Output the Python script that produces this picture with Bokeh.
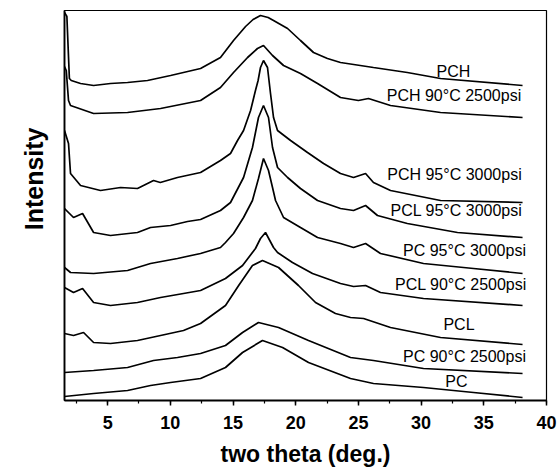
from bokeh.plotting import figure
from bokeh.models import Range1d, SingleIntervalTicker, FixedTicker, Title, ColumnDataSource
from bokeh.core.properties import value
from bokeh.embed import file_html
from bokeh.resources import INLINE

# ---------------- data (two theta in deg., intensity in arbitrary stacked units) -------------
pch_x = [1.56, 1.75, 1.95, 2.1, 2.84, 3.88, 5.23, 6.59, 8.18, 10.02, 12.41, 14.0, 15.04, 16.0, 16.6,
         17.19, 17.8, 18.23, 19.35, 20.38, 21.42, 22.53, 23.57, 26.2, 28.9, 31.55, 38.09]
pch_y = [388, 384, 322, 320, 317, 315, 317, 318, 320, 325, 332, 343, 360, 374, 381,
         385, 383, 380, 372, 360, 348, 342, 338, 333, 328, 322, 315]

pch90_x = [1.56, 1.7, 1.88, 2.04, 3.88, 6.59, 9.22, 12.41, 14.0, 15.04, 16.16, 16.95, 17.43, 18.15,
           19.03, 20.38, 21.74, 23.57, 25.0, 25.8, 27.56, 31.55, 38.09]
pch90_y = [334, 330, 300, 295, 287, 288, 292, 300, 313, 328, 343, 352, 355, 345,
           335, 327, 317, 303, 300, 302, 295, 288, 283]

pch95_x = [1.56, 1.88, 2.04, 2.84, 4.43, 6.03, 7.38, 8.66, 9.2, 10.57, 12.41, 14.0, 14.8, 15.36,
           15.84, 16.4, 16.79, 17.0, 17.19, 17.43, 17.75, 17.99, 18.23, 18.55, 19.59, 20.94, 22.22,
           23.57, 24.61, 25.57, 26.2, 27.56, 31.55, 38.09]
pch95_y = [270, 257, 227, 215, 210, 213, 212, 220, 218, 223, 228, 240, 247, 260,
           270, 290, 310, 320, 333, 340, 333, 307, 283, 270, 260, 248, 237,
           227, 223, 227, 218, 210, 200, 198]

pcl95_x = [1.56, 2.28, 3.0, 3.88, 5.23, 7.38, 8.42, 10.02, 11.37, 12.41, 14.0, 14.8, 15.84, 16.55,
           17.03, 17.43, 17.83, 18.15, 18.55, 19.35, 20.38, 21.74, 23.57, 24.61, 25.57, 26.52,
           28.9, 32.9, 38.09]
pcl95_y = [192, 183, 187, 168, 165, 168, 173, 175, 179, 181, 190, 198, 223, 253,
           283, 295, 283, 253, 233, 223, 212, 200, 192, 190, 195, 185,
           177, 168, 163]

pc95_x = [1.56, 2.04, 3.88, 6.59, 8.42, 10.57, 12.41, 14.0, 14.4, 15.04, 15.84, 16.55, 17.03, 17.43,
          17.83, 18.15, 18.39, 19.03, 20.38, 21.74, 23.57, 24.61, 25.57, 26.76, 30.19, 34.18, 38.09]
pc95_y = [133, 128, 127, 130, 137, 142, 147, 153, 158, 167, 183, 200, 222, 242,
          230, 213, 200, 183, 173, 163, 157, 153, 157, 147, 137, 132, 127]

pcl90_x = [1.56, 2.28, 3.0, 3.88, 5.23, 7.38, 9.22, 11.05, 12.41, 14.4, 15.76, 16.79, 17.19, 17.59,
           18.23, 18.55, 19.74, 21.34, 23.57, 24.61, 25.57, 26.76, 30.19, 38.09]
pcl90_y = [113, 108, 112, 98, 95, 98, 103, 107, 110, 122, 135, 152, 162, 168,
           153, 148, 138, 127, 117, 114, 115, 108, 102, 95]

pcl_x = [1.56, 2.28, 3.08, 3.88, 5.23, 7.38, 9.22, 11.05, 12.41, 14.4, 15.45, 16.55, 17.35, 18.63,
         20.22, 21.58, 23.17, 24.37, 25.41, 27.56, 31.55, 38.09]
pcl_y = [67, 65, 68, 58, 57, 60, 65, 70, 77, 95, 115, 135, 140, 133,
         115, 98, 87, 83, 82, 73, 63, 56]

pc90_x = [1.56, 3.88, 6.59, 8.66, 10.57, 12.41, 14.4, 15.76, 17.03, 18.63, 21.02, 24.37, 26.2,
          30.19, 38.09]
pc90_y = [28, 30, 33, 40, 43, 47, 55, 68, 78, 73, 60, 43, 40, 32, 27]

pc_x = [1.56, 3.88, 6.59, 8.42, 10.02, 12.41, 14.4, 15.76, 17.35, 18.95, 21.02, 24.37, 26.2,
        30.19, 34.18, 38.09]
pc_y = [4, 7, 10, 15, 18, 22, 33, 48, 60, 53, 38, 22, 17, 13, 8, 3]

series_names = ["PCH", "PCH 90°C 2500psi", "PCH 95°C 3000psi", "PCL 95°C 3000psi",
                "PC 95°C 3000psi", "PCL 90°C 2500psi", "PCL", "PC 90°C 2500psi", "PC"]
series_x = [pch_x, pch90_x, pch95_x, pcl95_x, pc95_x, pcl90_x, pcl_x, pc90_x, pc_x]
series_y = [pch_y, pch90_y, pch95_y, pcl95_y, pc95_y, pcl90_y, pcl_y, pc90_y, pc_y]

x_ticks_interval = 5

# ---------------- layout ----------------
label_pos_x = [32.58, 32.62, 32.66, 32.82, 33.46, 33.18, 33.02, 33.46, 32.82]
label_pos_y = [329.5, 305, 226, 190, 150, 116, 76, 44, 19]

FONT = "Liberation Sans"

p = figure(width=558, height=471, output_backend="svg", toolbar_location=None,
           x_range=Range1d(1.56, 40), y_range=Range1d(0, 390),
           min_border_left=64, min_border_right=12, min_border_top=10, min_border_bottom=71)
p.background_fill_color = "white"
p.border_fill_color = "white"
p.xgrid.visible = False
p.ygrid.visible = False
p.outline_line_color = "black"
p.outline_line_width = 1.2

for xs, ys in zip(series_x, series_y):
    p.line(xs, ys, line_color="black", line_width=1.7)

src = ColumnDataSource(dict(x=label_pos_x, y=label_pos_y, t=series_names))
p.text(x="x", y="y", text="t", source=src, text_font=value(FONT), text_font_size="16px",
       text_align="center", text_baseline="middle", text_color="black")

xa = p.xaxis[0]
xa.ticker = SingleIntervalTicker(interval=x_ticks_interval, num_minor_ticks=2)
xa.axis_line_width = 1.8
xa.axis_line_color = "black"
xa.major_tick_out = 5
xa.major_tick_in = 0
xa.minor_tick_out = 3
xa.minor_tick_in = 0
xa.major_tick_line_width = 1.5
xa.minor_tick_line_width = 1.2
xa.major_tick_line_color = "black"
xa.minor_tick_line_color = "black"
xa.major_label_text_font = FONT
xa.major_label_text_font_style = "bold"
xa.major_label_text_font_size = "18px"
xa.major_label_text_color = "black"
xa.major_label_standoff = 10
xa.axis_label = "two theta (deg.)"
xa.axis_label_text_font = FONT
xa.axis_label_text_font_style = "bold"
xa.axis_label_text_font_size = "23px"
xa.axis_label_text_color = "black"
xa.axis_label_standoff = 9

ya = p.yaxis[0]
ya.ticker = FixedTicker(ticks=[])
ya.axis_line_width = 1.8
ya.axis_line_color = "black"
ya.major_tick_line_color = None
ya.minor_tick_line_color = None
ya.major_label_text_font_size = "0px"

ytitle = Title(text="Intensity", align="right", offset=117,
               text_font=FONT, text_font_style="bold", text_font_size="25px",
               text_color="black", standoff=33)
p.add_layout(ytitle, "left")

open("out.html", "w").write(file_html(p, INLINE))
